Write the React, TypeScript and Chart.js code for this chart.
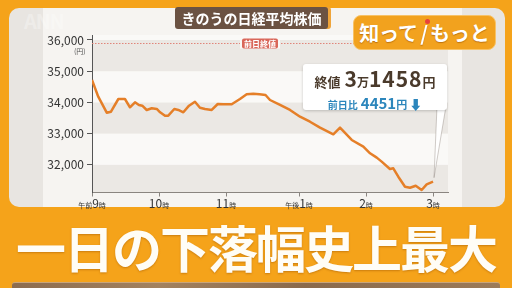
import React, { useEffect, useRef } from 'react';
import { Chart, registerables } from 'chart.js';
Chart.register(...registerables);

// ---- data ----
const tickMinutes = [0, 60, 120, 185.4, 245.4, 305.4];
const tickPrefix = ['午前', '', '', '午後', '', ''];
const tickHours = ['9', '10', '11', '1', '2', '3'];
const tickSuffix = '時';
const yTicks = [32000, 33000, 34000, 35000, 36000];
const prevClose = 35909;
const prevCloseLabel = '前日終値';
const times = [
  0, 5.6, 13.2, 17, 23.6, 29.5, 34, 38.5, 42, 45, 49, 53.5, 58, 61, 65.4, 68.3, 73.7, 77.3,
  81.8, 86.9, 92.2, 96.7, 101.2, 107.2, 112.6, 117.6, 125.1, 132.5, 138.5, 144.4, 150,
  155.4, 159.4, 168.4, 177.3, 186.3, 195.2, 204.2, 216.1, 222.1, 232.6, 243, 249, 255,
  259.4, 266.8, 269.8, 274.3, 280.3, 284.8, 289.9, 295.2, 299.7, 305.4,
];
const prices = [
  34717, 34182, 33669, 33701, 34108, 34108, 33842, 34002, 33916, 33894, 33756, 33810, 33788,
  33682, 33573, 33573, 33788, 33756, 33682, 33894, 34022, 33829, 33788, 33756, 33948, 33938,
  33938, 34108, 34259, 34278, 34259, 34236, 34076, 33916, 33756, 33541, 33380, 33188, 32976,
  33188, 32794, 32579, 32367, 32228, 32100, 31864, 31886, 31617, 31295, 31263, 31328, 31191,
  31373, 31458,
];
const titleText = 'きのうの日経平均株価';
const bannerText = '一日の下落幅史上最大';

const FONT = '"Noto Sans CJK JP", "Noto Sans", sans-serif';

export default function App() {
  const ref = useRef<HTMLCanvasElement | null>(null);
  useEffect(() => {
    if (!ref.current) return;
    const bandsPlugin = {
      id: 'bands',
      beforeDraw(chart: any) {
        const { ctx, chartArea, scales } = chart;
        const y = scales.y;
        const { left, right } = chartArea;
        const bounds = [y.min, ...yTicks, y.max];
        ctx.save();
        for (let i = 0; i < bounds.length - 1; i++) {
          const p1 = y.getPixelForValue(bounds[i]);
          const p2 = y.getPixelForValue(bounds[i + 1]);
          ctx.fillStyle = i % 2 === 0 ? '#EBE8E4' : '#FAF9F7';
          ctx.fillRect(left, p2, right - left, p1 - p2);
        }
        ctx.restore();
      },
      beforeDatasetsDraw(chart: any) {
        const { ctx, chartArea, scales } = chart;
        const py = Math.round(scales.y.getPixelForValue(prevClose)) + 0.5;
        ctx.save();
        ctx.strokeStyle = '#E0857A';
        ctx.lineWidth = 1;
        ctx.setLineDash([1.5, 1.5]);
        ctx.beginPath();
        ctx.moveTo(chartArea.left, py);
        ctx.lineTo(chartArea.right, py);
        ctx.stroke();
        ctx.setLineDash([]);
        const cx = 260;
        ctx.font = `bold 8px ${FONT}`;
        const w = ctx.measureText(prevCloseLabel).width + 4;
        ctx.fillStyle = '#FAF9F7';
        ctx.fillRect(cx - w / 2 - 2, py - 5, w + 4, 10);
        ctx.fillStyle = '#D9675A';
        ctx.beginPath();
        ctx.roundRect(cx - w / 2, py - 5, w, 10, 2);
        ctx.fill();
        ctx.fillStyle = '#fff';
        ctx.textAlign = 'center';
        ctx.textBaseline = 'middle';
        ctx.fillText(prevCloseLabel, cx, py + 0.5);
        ctx.restore();
      },
      afterDraw(chart: any) {
        const { ctx, scales } = chart;
        const x = scales.x;
        const y = scales.y;
        ctx.save();
        ctx.fillStyle = '#333';
        ctx.textBaseline = 'alphabetic';
        ctx.textAlign = 'left';
        const base = 208;
        tickMinutes.forEach((m, i) => {
          const px = x.getPixelForValue(m);
          ctx.font = `7px ${FONT}`;
          const wp = tickPrefix[i] ? ctx.measureText(tickPrefix[i]).width : 0;
          const ws = ctx.measureText(tickSuffix).width;
          ctx.font = `12px ${FONT}`;
          const wn = ctx.measureText(tickHours[i]).width;
          let sx = px - (wp + wn + ws) / 2;
          ctx.font = `7px ${FONT}`;
          if (tickPrefix[i]) ctx.fillText(tickPrefix[i], sx, base);
          sx += wp;
          ctx.font = `12px ${FONT}`;
          ctx.fillText(tickHours[i], sx, base);
          sx += wn;
          ctx.font = `7px ${FONT}`;
          ctx.fillText(tickSuffix, sx, base);
        });
        // callout tail
        const lx = x.getPixelForValue(times[times.length - 1]);
        const ly = y.getPixelForValue(prices[prices.length - 1]);
        ctx.fillStyle = '#FFFFFF';
        ctx.strokeStyle = 'rgba(120,110,100,0.35)';
        ctx.lineWidth = 1;
        ctx.beginPath();
        ctx.moveTo(437, 106);
        ctx.lineTo(lx + 1, ly - 4);
        ctx.lineTo(446, 106);
        ctx.closePath();
        ctx.fill();
        ctx.stroke();
        ctx.restore();
      },
    };

    const chart = new Chart(ref.current, {
      type: 'line',
      data: {
        datasets: [
          {
            data: times.map((t, i) => ({ x: t, y: prices[i] })),
            borderColor: '#E57F28',
            borderWidth: 2.5,
            pointRadius: 0,
            tension: 0,
            fill: false,
            borderJoinStyle: 'round',
          },
        ],
      },
      options: {
        animation: false,
        responsive: false,
        maintainAspectRatio: false,
        layout: { padding: { left: 0, top: 35, right: 64, bottom: 0 } },
        plugins: { legend: { display: false }, tooltip: { enabled: false } },
        scales: {
          x: {
            type: 'linear',
            min: 0,
            max: 318.8,
            afterBuildTicks: (s: any) => {
              s.ticks = tickMinutes.map((v) => ({ value: v }));
            },
            afterFit: (s: any) => {
              s.height = 95.5;
            },
            grid: { drawOnChartArea: false, drawTicks: true, tickLength: 4, color: '#8a8580' },
            border: { display: true, color: '#8a8580', width: 1 },
            ticks: { display: false, autoSkip: false },
          },
          y: {
            min: 31110,
            max: 36160,
            afterBuildTicks: (s: any) => {
              s.ticks = yTicks.map((v) => ({ value: v }));
            },
            afterFit: (s: any) => {
              s.width = 92;
            },
            grid: { drawOnChartArea: false, drawTicks: true, tickLength: 5, color: '#555' },
            border: { display: true, color: '#555', width: 1 },
            ticks: {
              padding: 3,
              color: '#333',
              autoSkip: false,
              font: { size: 12, family: FONT },
              callback: (v: any) => Number(v).toLocaleString('en-US'),
            },
          },
        },
      },
      plugins: [bandsPlugin],
    } as any);
    return () => chart.destroy();
  }, []);

  return (
    <div
      style={{
        position: 'fixed',
        left: 0,
        top: 0,
        width: 512,
        height: 288,
        overflow: 'hidden',
        background: '#F5A31A',
        fontFamily: FONT,
      }}
    >
      <div
        style={{
          position: 'absolute',
          left: 9,
          top: 8,
          width: 496,
          height: 199,
          background: '#E8E5E1',
          borderRadius: 10,
        }}
      />
      <div
        style={{
          position: 'absolute',
          left: 43,
          top: 8,
          width: 419,
          height: 199,
          background: '#F6F4F1',
        }}
      />
      <div
        style={{
          position: 'absolute',
          left: 24,
          top: 6,
          fontSize: 20,
          fontWeight: 700,
          color: 'rgba(255,255,255,0.3)',
          letterSpacing: -1,
        }}
      >
        ANN
      </div>
      <canvas ref={ref} width={512} height={288} style={{ position: 'absolute', left: 0, top: 0 }} />
      <div
        style={{ position: 'absolute', left: 74, top: 47, fontSize: 7, color: '#555', lineHeight: '8px' }}
      >
        (円)
      </div>
      <div
        style={{
          position: 'absolute',
          left: 175,
          top: 7,
          width: 153,
          height: 22,
          background: '#6B5242',
          borderRadius: 3,
          boxShadow: '3px 0 0 #EFA43A',
          color: '#fff',
          fontSize: 14,
          fontWeight: 700,
          lineHeight: '22px',
          textAlign: 'center',
        }}
      >
        {titleText}
      </div>
      <div
        style={{
          position: 'absolute',
          left: 353,
          top: 15,
          width: 143,
          height: 35,
          background: '#F2A21E',
          border: '1px solid #F7C267',
          boxSizing: 'border-box',
          borderRadius: 8,
          color: '#fff',
          fontSize: 20,
          fontWeight: 700,
          lineHeight: '33px',
          textAlign: 'center',
          textShadow: '0 1px 1px rgba(140,70,0,0.5)',
          whiteSpace: 'nowrap',
        }}
      >
        知って
        <span style={{ position: 'relative', display: 'inline-block', margin: '0 2px' }}>
          /
          <span
            style={{
              position: 'absolute',
              left: 5,
              top: 3,
              width: 5,
              height: 5,
              borderRadius: 3,
              background: '#E8413A',
            }}
          />
        </span>
        もっと
      </div>
      <div
        style={{
          position: 'absolute',
          left: 303,
          top: 64,
          width: 144,
          height: 46,
          background: '#fff',
          borderRadius: 3,
          boxShadow: '0 1px 3px rgba(0,0,0,0.2)',
          textAlign: 'center',
          whiteSpace: 'nowrap',
        }}
      >
        <div style={{ color: '#4A3A2B', fontWeight: 700, lineHeight: '24px', marginTop: 2 }}>
          <span style={{ fontSize: 13, marginRight: 4 }}>終値</span>
          <span style={{ fontSize: 21 }}>3</span>
          <span style={{ fontSize: 12 }}>万</span>
          <span style={{ fontSize: 21, letterSpacing: 1 }}>1458</span>
          <span style={{ fontSize: 13 }}>円</span>
        </div>
        <div style={{ color: '#2C86BC', fontWeight: 700, lineHeight: '16px' }}>
          <span style={{ fontSize: 10, marginRight: 3 }}>前日比</span>
          <span style={{ fontSize: 15 }}>4451</span>
          <span style={{ fontSize: 11 }}>円</span>
          <span style={{ fontSize: 13, marginLeft: 2 }}>⬇</span>
        </div>
      </div>
      <div
        style={{
          position: 'absolute',
          left: 0,
          top: 216,
          width: 512,
          textAlign: 'center',
          color: '#FFFDF6',
          fontSize: 50,
          fontWeight: 700,
          letterSpacing: -2,
          lineHeight: '60px',
          textShadow: '0 1px 2px rgba(150,80,0,0.45)',
          whiteSpace: 'nowrap',
        }}
      >
        {bannerText}
      </div>
      <div
        style={{
          position: 'absolute',
          left: 12,
          top: 282,
          width: 488,
          height: 10,
          borderRadius: 3,
          background: 'linear-gradient(90deg, #8C6C4F, #A3825F 30%, #8A6A4C 60%, #9C7B59)',
          borderTop: '1px solid #C9A57A',
        }}
      />
    </div>
  );
}
